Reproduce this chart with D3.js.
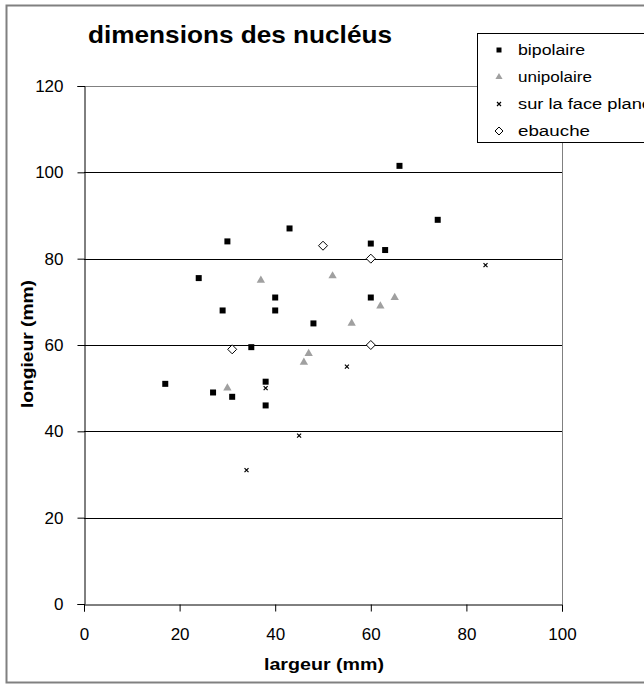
<!DOCTYPE html>
<html><head><meta charset="utf-8">
<script src="https://cdn.jsdelivr.net/npm/d3@7"></script>
<style>body{margin:0;background:#fff}</style>
</head><body>
<script>
const bipolaireX = [17,24,27,29,30,31,35,38,38,40,40,43,48,60,60,63,66,74];
const bipolaireY = [51,75.5,49,68,84,48,59.5,46,51.5,71,68,87,65,83.5,71,82,101.5,89];
const unipolaireX = [30,37,46,47,52,56,62,65];
const unipolaireY = [50,75,56,58,76,65,69,71];
const faceX = [34,38,45,55,84];
const faceY = [31,50,39,55,78.5];
const ebaucheX = [31,50,60,60];
const ebaucheY = [59,83,80,60];
const xTicks = [0,20,40,60,80,100];
const yTicks = [0,20,40,60,80,100,120];
const legendLabels = ["bipolaire","unipolaire","sur la face plane","ebauche"];

const W=644,H=688;
const FONT="Arial, 'Liberation Sans', sans-serif";
const svg=d3.select("body").append("svg").attr("width",W).attr("height",H)
  .style("font-family",FONT);
svg.append("rect").attr("x",6.5).attr("y",5.5).attr("width",660).attr("height",677)
  .attr("fill","#fff").attr("stroke","#808080").attr("stroke-width",2);

const x=d3.scaleLinear().domain([0,100]).range([84,562]);
const y=d3.scaleLinear().domain([0,120]).range([604,86]);

svg.append("g").selectAll("line").data(yTicks.filter(d=>d>0)).join("line")
  .attr("x1",x(0)).attr("x2",x(100)).attr("y1",d=>Math.round(y(d))+0.5).attr("y2",d=>Math.round(y(d))+0.5)
  .attr("stroke",d=>d===120?"#808080":"#000").attr("stroke-width",1);
svg.append("line").attr("x1",x(100)+0.5).attr("x2",x(100)+0.5).attr("y1",y(120)).attr("y2",y(0))
  .attr("stroke","#808080");

const ya=svg.append("g").attr("transform",`translate(${x(0)+0.5},0)`)
  .call(d3.axisLeft(y).tickValues(yTicks).tickSize(7).tickPadding(14));
const xa=svg.append("g").attr("transform",`translate(0,${Math.round(y(0))+0.5})`)
  .call(d3.axisBottom(x).tickValues(xTicks).tickSize(7).tickPadding(16));
[ya,xa].forEach(a=>{a.selectAll("text").attr("font-size",17).attr("fill","#000")
  .style("font-family",FONT);
  a.selectAll("line,path").attr("stroke","#000");});

const sq=d3.symbol().type(d3.symbolSquare).size(36);
const tri=d3.symbol().type(d3.symbolTriangle).size(30);
const diaPath=s=>`M0,${-s}L${s},0L0,${s}L${-s},0Z`;
svg.append("g").selectAll("path").data(bipolaireX.map((v,i)=>[v,bipolaireY[i]])).join("path")
  .attr("d",sq).attr("transform",d=>`translate(${x(d[0])},${y(d[1])})`).attr("fill","#000");
svg.append("g").selectAll("path").data(unipolaireX.map((v,i)=>[v,unipolaireY[i]])).join("path")
  .attr("d",tri).attr("transform",d=>`translate(${x(d[0])},${y(d[1])})`).attr("fill","#a0a0a0");
const cross=(g,cx,cy,s)=>g.append("path").attr("d",`M${cx-s},${cy-s}L${cx+s},${cy+s}M${cx-s},${cy+s}L${cx+s},${cy-s}`)
  .attr("stroke","#000").attr("stroke-width",1.2).attr("fill","none");
const fg=svg.append("g");
faceX.forEach((v,i)=>cross(fg,x(v),y(faceY[i]),2));
svg.append("g").selectAll("path").data(ebaucheX.map((v,i)=>[v,ebaucheY[i]])).join("path")
  .attr("d",diaPath(4.5)).attr("transform",d=>`translate(${x(d[0])},${y(d[1])})`).attr("fill","#fff")
  .attr("stroke","#000").attr("stroke-width",1);

svg.append("text").attr("x",88).attr("y",43).attr("font-size",24).attr("font-weight","bold")
  .attr("textLength",304).attr("lengthAdjust","spacingAndGlyphs")
  .text("dimensions des nucléus");
svg.append("text").attr("x",264).attr("y",670)
  .attr("font-size",16).attr("font-weight","bold")
  .attr("textLength",120).attr("lengthAdjust","spacingAndGlyphs").text("largeur (mm)");
svg.append("text").attr("transform",`translate(33,408) rotate(-90)`)
  .attr("font-size",16).attr("font-weight","bold")
  .attr("textLength",128).attr("lengthAdjust","spacingAndGlyphs").text("longieur (mm)");

const lg=svg.append("g");
lg.append("rect").attr("x",477.5).attr("y",33.5).attr("width",200).attr("height",109)
  .attr("fill","#fff").attr("stroke","#000");
const legLen=[67,74,134,72];
legendLabels.forEach((t,i)=>{
  const cy=50+i*27;
  if(i===0) lg.append("path").attr("d",d3.symbol().type(d3.symbolSquare).size(25)).attr("transform",`translate(499,${cy})`).attr("fill","#000");
  if(i===1) lg.append("path").attr("d",d3.symbol().type(d3.symbolTriangle).size(22)).attr("transform",`translate(499,${cy})`).attr("fill","#a0a0a0");
  if(i===2) cross(lg,499,cy,2);
  if(i===3) lg.append("path").attr("d",diaPath(4)).attr("transform",`translate(499,${cy})`).attr("fill","#fff").attr("stroke","#000");
  lg.append("text").attr("x",518).attr("y",cy+5).attr("font-size",14)
    .attr("textLength",legLen[i]).attr("lengthAdjust","spacingAndGlyphs").text(t);
});
</script>
</body></html>
